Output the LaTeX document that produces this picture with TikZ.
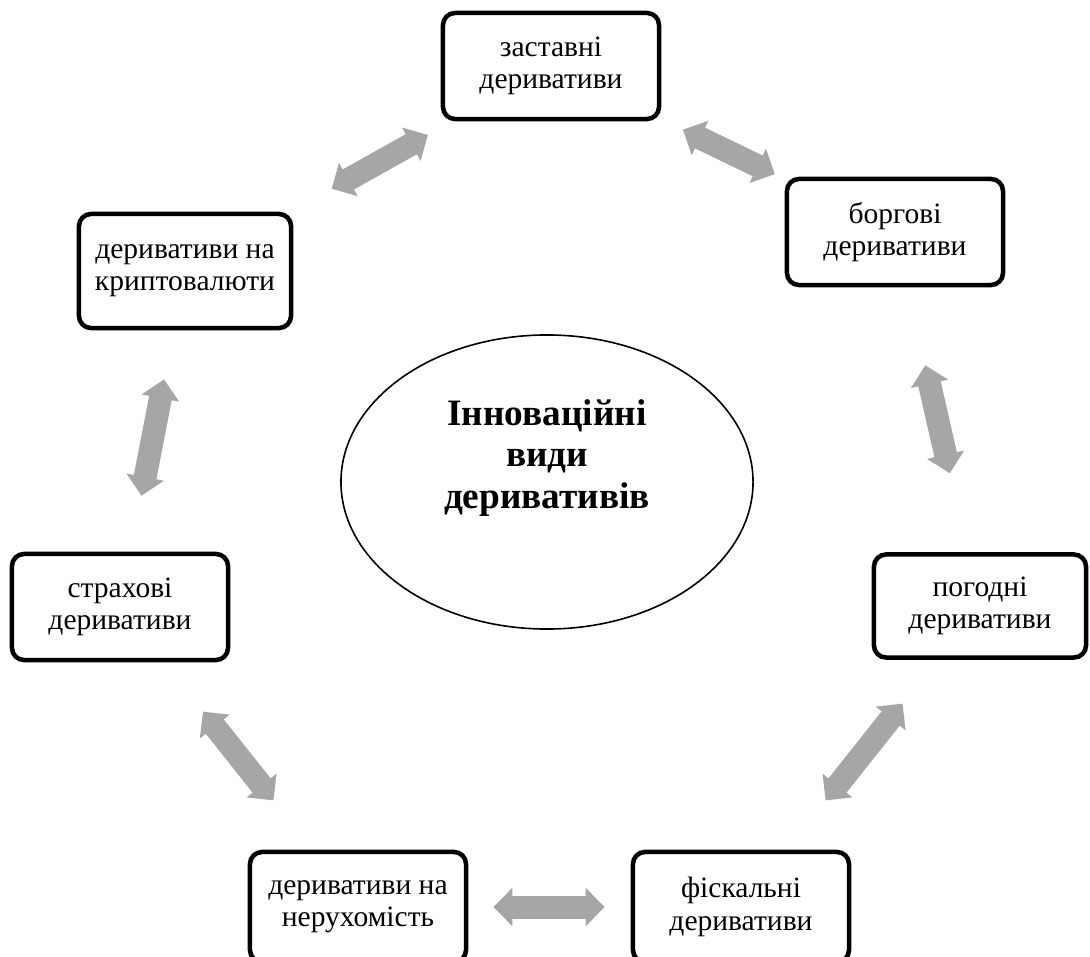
\documentclass[tikz,border=0pt]{standalone}
\usepackage{fontspec}
\setmainfont{Liberation Serif}
\usetikzlibrary{arrows.meta,shapes.geometric}
\definecolor{linkgray}{RGB}{166,166,166}
\tikzset{
  kind/.style={draw,line width=0.1125cm,rounded corners=0.3cm,
    minimum width=5.4cm,minimum height=2.65cm,inner sep=0pt,align=center,
    font=\fontsize{21}{23}\selectfont},
  hub/.style={draw,ellipse,line width=0.04cm,minimum width=10.3cm,
    minimum height=7.35cm,inner sep=0pt},
  title/.style={align=center,font=\fontsize{26.5}{29.5}\selectfont\bfseries},
  link/.style={linkgray,line width=0.575cm,line join=miter,
    {Triangle[length=0.475cm,width=0.925cm]}-{Triangle[length=0.475cm,width=0.925cm]}},
}
\begin{document}
\begin{tikzpicture}[x=0.025cm,y=-0.025cm]
  \useasboundingbox (0,0) rectangle (1090,957);
  % centre
  \node[hub] (hub) at (547,482) {};
  \node[title] (hubtitle) at (547,458) {Інноваційні\\види\\деривативів};
  % kinds, clockwise from the top
  \node[kind] (zast) at (551,66) {заставні\\деривативи};
  \node[kind] (borg) at (895,232) {боргові\\деривативи};
  \node[kind,minimum width=5.3cm,minimum height=2.575cm] (pogod) at (980,606) {погодні\\деривативи};
  \node[kind,minimum height=2.75cm] (fisk) at (741,907) {фіскальні\\деривативи};
  \node[kind,minimum height=2.75cm] (neruh) at (358,907) {деривативи на\\нерухомість};
  \node[kind] (strakh) at (120,607) {страхові\\деривативи};
  \node[kind,minimum width=5.3cm,minimum height=2.85cm] (krypto) at (185,271) {деривативи на\\криптовалюти};
  % links
  \draw[link,shorten <=0.6cm,shorten >=0.275cm] (zast) -- (borg);
  \draw[link,shorten <=2cm,shorten >=2.025cm] (borg) -- (pogod);
  \draw[link,shorten <=1.4cm,shorten >=1.575cm] (pogod) -- (fisk);
  \draw[link,shorten <=0.625cm,shorten >=0.65cm] (neruh) -- (fisk);
  \draw[link,shorten <=1.575cm,shorten >=1.575cm] (strakh) -- (neruh);
  \draw[link,shorten <=1.25cm,shorten >=1.425cm] (krypto) -- (strakh);
  \draw[link,shorten <=0.7cm,shorten >=1.175cm] (zast) -- (krypto);
\end{tikzpicture}
\end{document}
